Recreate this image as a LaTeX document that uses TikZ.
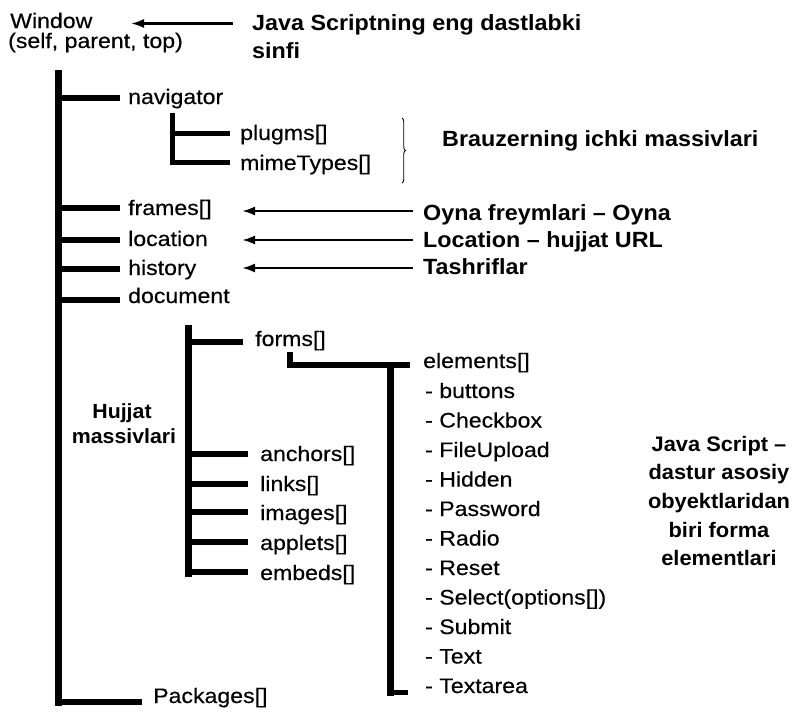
\documentclass[tikz,border=0pt]{standalone}
\usepackage{fontspec}
\setmainfont{Liberation Sans}
\newfontfamily\regf{Liberation Sans}[FakeStretch=1.1,FakeBold=0.35]
\newfontfamily\boldf{Liberation Sans}[FakeStretch=1.06]
\newfontfamily\boldg{Liberation Sans}[FakeStretch=1.04]
\usetikzlibrary{arrows.meta,decorations.pathreplacing}
\newcommand\rfont{\regf\fontsize{21}{25}\selectfont}
\newcommand\bfont{\boldf\bfseries\fontsize{22}{26}\selectfont}
\newcommand\bgfont{\boldg\bfseries\fontsize{21}{25}\selectfont}
\newcommand\bhfont{\boldg\bfseries\fontsize{20.5}{25}\selectfont}
\begin{document}
\begin{tikzpicture}[x=1pt,y=-1pt,
  lbl/.style={anchor=base west,inner sep=0pt,font=\rfont},
  blbl/.style={anchor=base west,inner sep=0pt,font=\bfont},
  clbl/.style={anchor=base,inner sep=0pt,font=\bgfont},
  hlbl/.style={anchor=base,inner sep=0pt,font=\bhfont},
  trunkline/.style={line width=7pt},
  branchline/.style={line width=6pt},
  subline/.style={line width=5pt},
  ptr/.style={line width=2.2pt,-{Latex[length=13pt,width=9pt]}},
  bracestyle/.style={line width=0.9pt,decorate,decoration={brace,amplitude=3.5pt}}]
\useasboundingbox (0,0) rectangle (802,712);
\fill[white] (0,0) rectangle (802,712);

% top: Window and its note
\node[lbl] (win) at (10,28) {Window};
\node[lbl] (win2) at (8,48) {(self, parent, top)};
\node[blbl] (js) at (252,30) {Java Scriptning eng dastlabki};
\node[blbl] (js2) at (252,58) {sinfi};
\coordinate (WA) at (131,0);
\path ([xshift=-19pt,yshift=6.5pt]js.base west) coordinate (js-a);
\draw[ptr] (js-a) -- (WA |- js-a);

% main trunk
\coordinate (T0) at (58,70);
\coordinate (T1) at (58,706);
\draw[trunkline] (T0) -- (T1);
\foreach \nm/\tx/\xx/\bl/\off/\gap in {
    nav/navigator/128/104/6/8,
    frames/{frames[]}/128/215/7/8,
    loc/location/128/246/6/8,
    hist/history/128/275/6/8,
    doc/document/128/303/3/8,
    pkg/{Packages[]}/153/703/1/11}{
  \node[lbl] (\nm) at (\xx,\bl) {\tx};
  \path ([xshift=-\gap*1pt,yshift=\off*1pt]\nm.base west) coordinate (\nm-b);
  \draw[branchline] (\nm-b) -- (T0 |- \nm-b);
}

% navigator subtree
\coordinate (N0) at (172,113);
\coordinate (N1) at (172,165);
\draw[subline] (N0) -- (N1);
\foreach \nm/\tx/\bl/\off in {plug/{plugms[]}/140/7, mime/{mimeTypes[]}/170/8}{
  \node[lbl] (\nm) at (240,\bl) {\tx};
  \path ([xshift=-10pt,yshift=\off*1pt]\nm.base west) coordinate (\nm-b);
  \draw[subline] (\nm-b) -- (N0 |- \nm-b);
}
\draw[bracestyle] (402,118) -- (402,183);
\node[blbl] (brz) at (442,146) {Brauzerning ichki massivlari};

% arrows with notes
\coordinate (AH) at (242,0);
\foreach \nm/\tx/\bl/\off in {
    lf/{Oyna freymlari – Oyna}/220/9,
    ll/{Location – hujjat URL}/247/7,
    lt/{Tashriflar}/274/6}{
  \node[blbl] (\nm) at (423,\bl) {\tx};
  \path ([xshift=-10pt,yshift=\off*1pt]\nm.base west) coordinate (\nm-a);
  \draw[ptr] (\nm-a) -- (AH |- \nm-a);
}

% document subtree
\coordinate (D0) at (188,325);
\coordinate (D1) at (188,577);
\draw[trunkline] (D0) -- (D1);
\foreach \nm/\tx/\xx/\bl/\off in {
    forms/{forms[]}/255/346/4,
    anch/{anchors[]}/260/461/7,
    links/{links[]}/260/491/7,
    imgs/{images[]}/260/520/8,
    appl/{applets[]}/260/550/8,
    emb/{embeds[]}/260/580/8}{
  \node[lbl] (\nm) at (\xx,\bl) {\tx};
  \path ([xshift=-12pt,yshift=\off*1pt]\nm.base west) coordinate (\nm-b);
  \draw[branchline] (\nm-b) -- (D0 |- \nm-b);
}
\node[hlbl] (hm1) at (122,418) {Hujjat};
\node[hlbl] (hm2) at (124,443) {massivlari};

% elements subtree
\node[lbl] (el) at (423,368) {elements[]};
\coordinate (E0) at (290,352);
\coordinate (E1) at (290,365);
\draw[branchline] (E0) -- (E1) -- ([xshift=-13pt,yshift=3pt]el.base west);
\coordinate (V0) at (390,365);
\coordinate (V1) at (390,696);
\draw[trunkline] (V0) -- (V1);
\foreach \tx [count=\k from 0] in {buttons,Checkbox,FileUpload,Hidden,Password,Radio,Reset,{Select(options[])},Submit,Text,Textarea}{
  \node[lbl] (i\k) at (425,398+29.5*\k) {- \tx};
}
\path ([xshift=-17pt,yshift=1pt]i10.base west) coordinate (i10-b);
\draw[subline] (i10-b) -- (V1 |- i10-b);

% right note
\foreach \tx/\bl [count=\k] in {{Java Script –}/451,{dastur asosiy}/479,{obyektlaridan}/508,{biri forma}/537,{elementlari}/565}{
  \node[clbl] (jb\k) at (719,\bl) {\tx};
}
\end{tikzpicture}
\end{document}
